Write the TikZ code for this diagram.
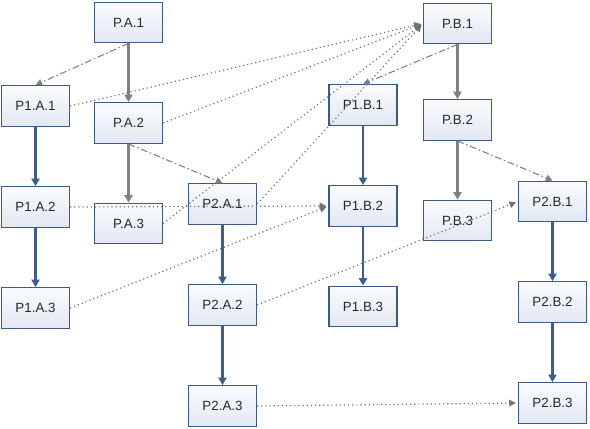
\documentclass[tikz,border=0pt]{standalone}
\usepackage{fontspec}
\setmainfont{Liberation Sans}
\usetikzlibrary{arrows.meta}
\definecolor{boxborder}{RGB}{58,90,138}
\definecolor{boxtop}{RGB}{250,251,253}
\definecolor{boxbot}{RGB}{226,232,242}
\definecolor{bluearrow}{RGB}{60,94,142}
\definecolor{grayarrow}{RGB}{128,128,128}
\definecolor{dotgray}{RGB}{115,115,115}
\definecolor{txt}{RGB}{40,40,40}
\tikzset{
  pbox/.style={draw=boxborder, line width=0.9pt, top color=boxtop, bottom color=boxbot,
    minimum width=51pt, minimum height=30.5pt, inner sep=0pt, text=txt,
    font=\fontsize{10pt}{12pt}\selectfont},
  bluearr/.style={draw=bluearrow, line width=1.6pt, -{Triangle[length=5.5pt,width=6pt]}},
  grayarr/.style={draw=grayarrow, line width=1.6pt, -{Triangle[length=5.5pt,width=6pt]}},
  dasharr/.style={draw=grayarrow, line width=0.8pt, dash pattern=on 5pt off 2pt on 1.2pt off 2pt,
    -{Triangle[length=5pt,width=5pt]}},
  dotarr/.style={draw=dotgray, line width=0.9pt, dash pattern=on 0.9pt off 2.2pt,
    -{Triangle[length=5pt,width=5pt]}, shorten >=1.5pt}
}
\begin{document}
\begin{tikzpicture}[x=0.75pt,y=-0.75pt]
\useasboundingbox (0,0) rectangle (590,429);
% A column nodes
\node[pbox] (PA1)  at (128.5,22.5) {P.A.1};
\node[pbox] (P1A1) at (35.5,106) {P1.A.1};
\node[pbox] (PA2)  at (128.5,123) {P.A.2};
\node[pbox] (P1A2) at (35.5,207) {P1.A.2};
\node[pbox] (PA3)  at (128.5,223.5) {P.A.3};
\node[pbox] (P2A1) at (222.5,204) {P2.A.1};
\node[pbox] (P1A3) at (35.5,308) {P1.A.3};
\node[pbox] (P2A2) at (222.5,305) {P2.A.2};
\node[pbox] (P2A3) at (222.5,406) {P2.A.3};
% B column nodes
\node[pbox] (PB1)  at (457.5,23.5) {P.B.1};
\node[pbox] (P1B1) at (363,105) {P1.B.1};
\node[pbox] (PB2)  at (457.5,120) {P.B.2};
\node[pbox] (P1B2) at (363,206) {P1.B.2};
\node[pbox] (PB3)  at (457.5,220.5) {P.B.3};
\node[pbox] (P2B1) at (552.5,201.5) {P2.B.1};
\node[pbox] (P1B3) at (363,306.5) {P1.B.3};
\node[pbox] (P2B2) at (552.5,302) {P2.B.2};
\node[pbox] (P2B3) at (552.5,403) {P2.B.3};
% dotted connectors
\draw[dotarr] (P1A1.east) -- (PB1.west);
\draw[dotarr] (PA2.east) -- (PB1.west);
\draw[dotarr] (PA3.east) -- (PB1.west);
\draw[dotarr] (P2A1.east) -- (PB1.west);
\draw[dotarr] (P1A2.east) -- (P1B2.west);
\draw[dotarr] (P1A3.east) -- (P1B2.west);
\draw[dotarr] (P2A2.east) -- (P2B1.west);
\draw[dotarr] (P2A3.east) -- (P2B3.west);
% dash-dot connectors
\draw[dasharr] (PA1.south) -- (P1A1.north);
\draw[dasharr] (PA2.south) -- (P2A1.north);
\draw[dasharr] (PB1.south) -- (P1B1.north);
\draw[dasharr] (PB2.south) -- (P2B1.north);
% gray solid
\draw[grayarr] (PA1) -- (PA2);
\draw[grayarr] (PA2) -- (PA3);
\draw[grayarr] (PB1) -- (PB2);
\draw[grayarr] (PB2) -- (PB3);
% blue solid
\draw[bluearr] (P1A1) -- (P1A2);
\draw[bluearr] (P1A2) -- (P1A3);
\draw[bluearr] (P2A1) -- (P2A2);
\draw[bluearr] (P2A2) -- (P2A3);
\draw[bluearr] (P1B1) -- (P1B2);
\draw[bluearr] (P1B2) -- (P1B3);
\draw[bluearr] (P2B1) -- (P2B2);
\draw[bluearr] (P2B2) -- (P2B3);
\end{tikzpicture}
\end{document}
